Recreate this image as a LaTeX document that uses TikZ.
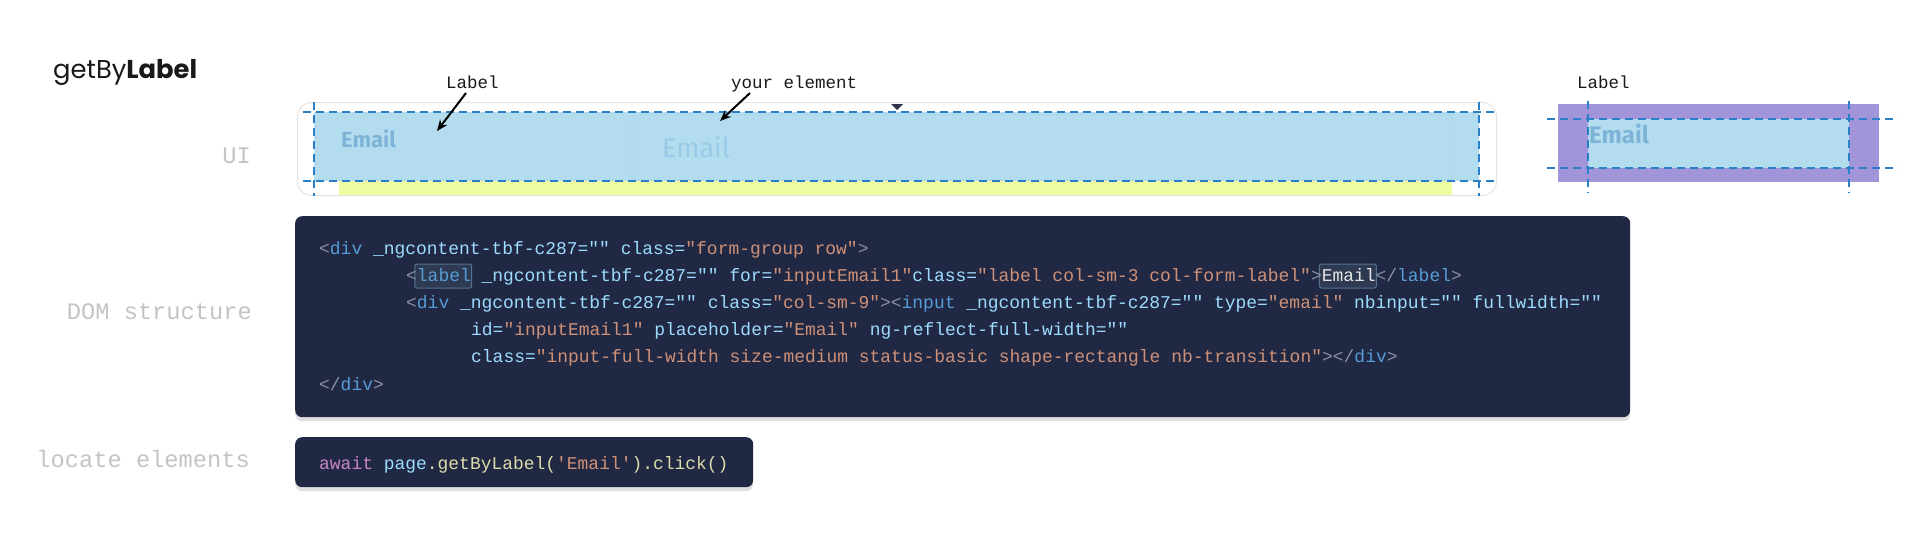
\documentclass[tikz,border=0pt]{standalone}
\usepackage{fontspec}
\setmainfont{Fira Sans}
\setsansfont{Poppins}
\setmonofont{Liberation Mono}
\usepackage{tikz}
\usetikzlibrary{arrows.meta}
\usetikzlibrary{math}
\usetikzlibrary{positioning}
\usetikzlibrary{shadows}

\definecolor{codebg}{HTML}{212843}
\definecolor{brk}{HTML}{8A90A2}
\definecolor{tagc}{HTML}{569CD6}
\definecolor{attc}{HTML}{9CDCFE}
\definecolor{strc}{HTML}{CE9178}
\definecolor{kwc}{HTML}{C586C0}
\definecolor{fnc}{HTML}{DCDCAA}
\definecolor{hlbg}{HTML}{2E3A52}
\definecolor{hlline}{HTML}{56708F}
\definecolor{skyfill}{HTML}{B3DCEF}
\definecolor{fieldline}{HTML}{A2CFE6}
\definecolor{lilac}{HTML}{A294D8}
\definecolor{lime}{HTML}{EEFBA0}
\definecolor{guideblue}{HTML}{2A7FC9}
\definecolor{mailtxt}{HTML}{7EB3D8}
\definecolor{holdtxt}{HTML}{98CBE8}
\definecolor{sidegray}{HTML}{C4C4C4}
\definecolor{rimgray}{HTML}{E4E4E4}
\definecolor{caret}{HTML}{2F3346}

\newcommand{\mkbrk}[1]{\textcolor{brk}{#1}}
\newcommand{\mktag}[1]{\textcolor{tagc}{#1}}
\newcommand{\mkatt}[1]{\textcolor{attc}{#1}}
\newcommand{\mkstr}[1]{\textcolor{strc}{#1}}
\newcommand{\mkkey}[1]{\textcolor{kwc}{#1}}
\newcommand{\mkfun}[1]{\textcolor{fnc}{#1}}

\tikzset{
	sidelabel/.style={font=\ttfamily\fontsize{23.7}{26}\selectfont, text=sidegray, anchor=base east, inner sep=0pt},
	codeline/.style={font=\ttfamily\fontsize{17.95}{20}\selectfont, text=attc, anchor=base west, inner sep=0pt},
	note/.style={font=\ttfamily\fontsize{17.5}{20}\selectfont, text=black!90, anchor=base west, inner sep=0pt},
	codebox/.style={fill=codebg, rounded corners=7pt, anchor=north west, inner sep=0pt,
		drop shadow={shadow xshift=0pt, shadow yshift=-4pt, opacity=0.12, fill=black}},
	guide/.style={guideblue, line width=2pt, dash pattern=on 8pt off 5pt},
	pointer/.style={-{Stealth[length=11pt,width=9pt]}, line width=2pt},
	hlbox/.style={fill=hlbg, draw=hlline, rounded corners=2pt, line width=1pt},
}

\begin{document}
\begin{tikzpicture}[x=1pt,y=-1pt]
	\path[fill=white, use as bounding box] (0,0) rectangle (1920,538);

	% title and row labels
	\node[font=\sffamily\fontsize{25.8}{30}\selectfont, text=black!90, anchor=base west, inner sep=0pt] (title) at (53,78) {getBy\textbf{Label}};
	\node[sidelabel] (uilbl) at (251,163) {UI};
	\node[sidelabel] (domlbl) at (252,319) {DOM structure};
	\node[sidelabel] (loclbl) at (250,467) {locate elements};

	% UI strip
	\node[draw=rimgray, fill=white, line width=1pt, rounded corners=14pt, anchor=north west, inner sep=0pt,
		minimum width=1199pt, minimum height=93pt] (uibox) at (297,102) {};
	\fill[lime] (339,181) rectangle (1452,195);
	\fill[skyfill] (314,112) rectangle (1479,181);
	\draw[fieldline, rounded corners=4pt] (632,115) rectangle (1452,180);
	\fill[caret] (891,104) -- (903,104) -- (897,110) -- cycle;
	\node[font=\bfseries\fontsize{22}{24}\selectfont, text=mailtxt, anchor=base west, inner sep=0pt] (mailA) at (341,147) {Email};
	\node[font=\fontsize{27}{30}\selectfont, text=holdtxt, anchor=base west, inner sep=0pt] (holdA) at (662,157) {Email};
	\foreach \y in {112,181} \draw[guide] (303,\y) -- (1497,\y);
	\foreach \x in {314,1479} \draw[guide] (\x,102) -- (\x,196);

	\node[note] (lbltxt) at (446,88) {Label};
	\node[note] (eltxt) at (731,88) {your element};
	\coordinate (lblpt) at (437,131);
	\coordinate (elpt) at (720,121);
	\draw[pointer] ([xshift=20pt,yshift=-5pt]lbltxt.base west) -- (lblpt);
	\draw[pointer] ([xshift=19pt,yshift=-5pt]eltxt.base west) -- (elpt);

	% small sample on the right
	\node[note] (lbltxtb) at (1577,88) {Label};
	\fill[lilac] (1558,104) rectangle (1879,182);
	\fill[skyfill] (1588,119) rectangle (1849,168);
	\node[font=\bfseries\fontsize{24}{26}\selectfont, text=mailtxt, anchor=base west, inner sep=0pt] (mailB) at (1589,143) {Email};
	\foreach \y in {119,168} \draw[guide] (1547,\y) -- (1898,\y);
	\foreach \x in {1588,1849} \draw[guide] (\x,101) -- (\x,193);

	% DOM structure
	\node[codebox, minimum width=1335pt, minimum height=201pt] (dombox) at (295,216) {};
	\tikzmath{\cw = 10.77; \xb = 406;}
	\draw[hlbox] ({\xb+\cw-2},264) rectangle ({\xb+6*\cw+1},288);
	\draw[hlbox] ({\xb+85*\cw-2},264) rectangle ({\xb+90*\cw+1},288);
	\node[codeline] (codeA) at (319,254) {\mkbrk{<}\mktag{div} \mkatt{\_ngcontent-tbf-c287="" class=}\mkstr{"form-group row"}\mkbrk{>}};
	\node[codeline] (codeB) at (406,281) {\mkbrk{<}\mktag{label} \mkatt{\_ngcontent-tbf-c287="" for=}\mkstr{"inputEmail1"}\mkatt{class=}\mkstr{"label col-sm-3 col-form-label"}\mkbrk{>}\textcolor{white!90!black}{Email}\mkbrk{</}\mktag{label}\mkbrk{>}};
	\node[codeline] (codeC) at (406,308) {\mkbrk{<}\mktag{div} \mkatt{\_ngcontent-tbf-c287="" class=}\mkstr{"col-sm-9"}\mkbrk{><}\mktag{input} \mkatt{\_ngcontent-tbf-c287="" type=}\mkstr{"email"} \mkatt{nbinput="" fullwidth=""}};
	\node[codeline] (codeD) at (471,335) {\mkatt{id=}\mkstr{"inputEmail1"} \mkatt{placeholder=}\mkstr{"Email"} \mkatt{ng-reflect-full-width=""}};
	\node[codeline] (codeE) at (471,362) {\mkatt{class=}\mkstr{"input-full-width size-medium status-basic shape-rectangle nb-transition"}\mkbrk{></}\mktag{div}\mkbrk{>}};
	\node[codeline] (codeF) at (319,390) {\mkbrk{</}\mktag{div}\mkbrk{>}};

	% locator call
	\node[codebox, minimum width=458pt, minimum height=50pt] (locbox) at (295,437) {};
	\node[codeline] (callA) at (319,469) {\mkkey{await} \mkatt{page}\mkfun{.getByLabel(}\mkstr{'Email'}\mkfun{).click()}};
\end{tikzpicture}
\end{document}
